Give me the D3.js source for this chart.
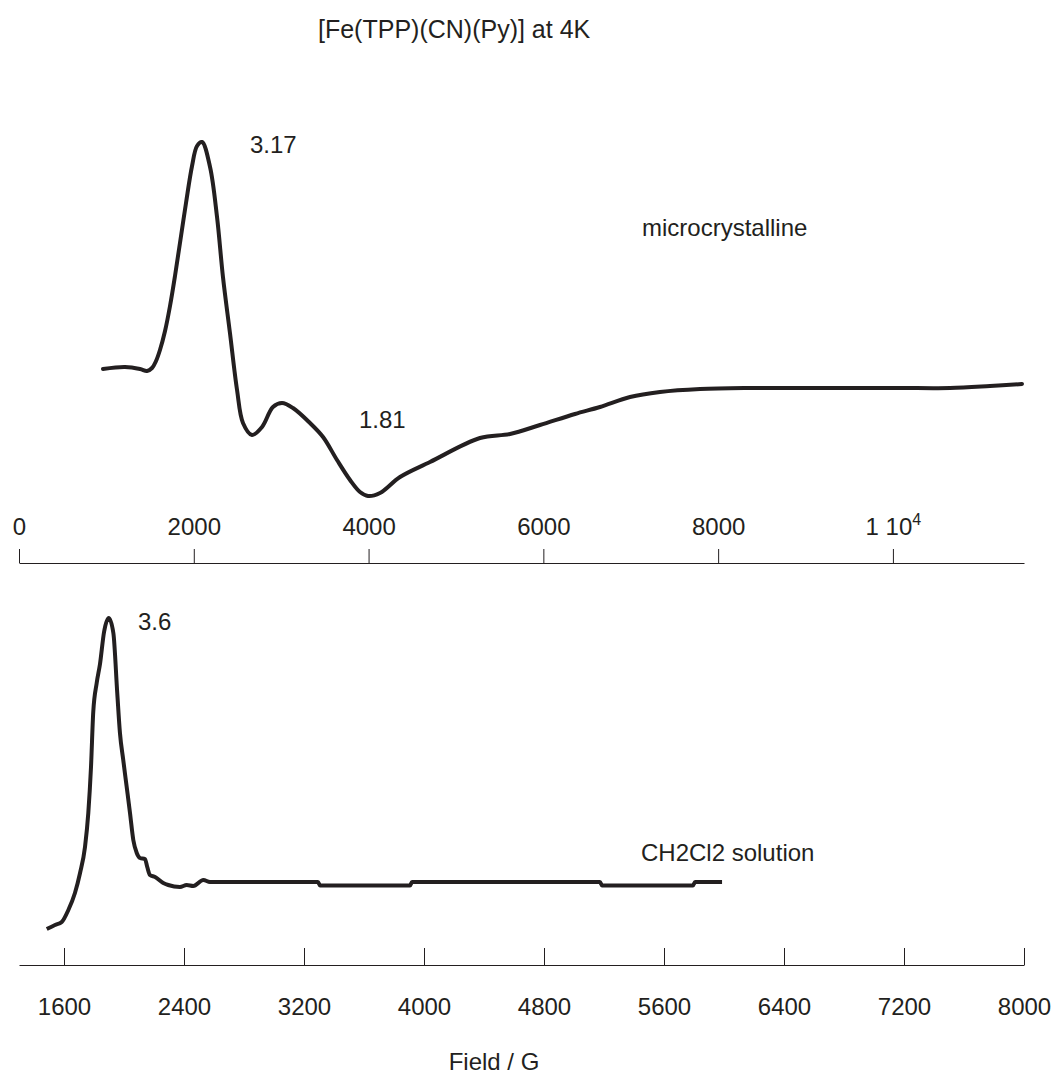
<!DOCTYPE html>
<html>
<head>
<meta charset="utf-8">
<script src="https://cdn.jsdelivr.net/npm/d3@7"></script>
<style>
  body { margin: 0; background: #fff; }
  text { font-family: "Liberation Sans", Arial, sans-serif; fill: #231f20; }
</style>
</head>
<body>
<svg width="1055" height="1078"></svg>
<script>
// microcrystalline spectrum (field in G, signal in arbitrary units)
var topField = [961, 1213, 1385, 1465, 1522, 1568, 1613, 1671, 1728, 1785, 1842, 1911, 1980, 2037, 2094, 2186, 2266, 2334, 2414, 2495, 2563, 2666, 2781, 2906, 3010, 3135, 3330, 3479, 3639, 3788, 3902, 3994, 4131, 4360, 4703, 5275, 5619, 5962, 6362, 6648, 6992, 7335, 7793, 8365, 8937, 9509, 10081, 10653, 11111, 11477];
var topSignal = [19, 21, 19, 17, 20, 27, 38, 57, 82, 112, 145, 185, 222, 242, 246, 221, 171, 111, 55, -2, -35, -47, -39, -19, -15, -20, -35, -49, -72, -92, -104, -108, -105, -89, -74, -50, -46, -37, -26, -19, -9, -4, -1, 0, 0, 0, 0, 0, 2, 4];

// CH2Cl2 solution spectrum
var botField = [1485, 1540, 1585, 1629, 1673, 1707, 1740, 1762, 1780, 1795, 1818, 1840, 1867, 1898, 1929, 1955, 1973, 1995, 2018, 2040, 2062, 2085, 2107, 2140, 2155, 2173, 2207, 2262, 2295, 2373, 2418, 2462, 2529, 2573, 3293, 3307, 3907, 3920, 5173, 5187, 5793, 5807, 5987];
var botSignal = [-47, -43, -40, -28, -11, 9, 35, 69, 115, 170, 199, 218, 250, 264, 249, 189, 149, 122, 95, 69, 42, 29, 24, 23, 15, 7, 5, -1, -3, -5, -3, -4, 2, 0, 0, -3.5, -3.5, 0, 0, -3.5, -3.5, 0, 0];

var topTicks = [0, 2000, 4000, 6000, 8000, 10000];
var botTicks = [1600, 2400, 3200, 4000, 4800, 5600, 6400, 7200, 8000];

var title = "[Fe(TPP)(CN)(Py)] at 4K";
var xLabel = "Field / G";

var svg = d3.select("svg");
var ink = "#231f20";

var xTop = d3.scaleLinear().domain([0, 11500]).range([19, 1024]);
var yTop = d3.scaleLinear().domain([-120, 260]).range([508, 128]);
var xBot = d3.scaleLinear().domain([1300, 8000]).range([19, 1024]);
var yBot = d3.scaleLinear().domain([-60, 270]).range([942, 612]);

var topData = topField.map(function(f, i) { return [f, topSignal[i]]; });
var botData = botField.map(function(f, i) { return [f, botSignal[i]]; });

svg.append("path")
  .datum(topData)
  .attr("fill", "none")
  .attr("stroke", ink)
  .attr("stroke-width", 4)
  .attr("stroke-linejoin", "round")
  .attr("stroke-linecap", "round")
  .attr("d", d3.line()
    .x(function(d) { return xTop(d[0]); })
    .y(function(d) { return yTop(d[1]); })
    .curve(d3.curveCatmullRom.alpha(0.5)));

svg.append("path")
  .datum(botData)
  .attr("fill", "none")
  .attr("stroke", ink)
  .attr("stroke-width", 4)
  .attr("stroke-linejoin", "round")
  .attr("d", d3.line()
    .x(function(d) { return xBot(d[0]); })
    .y(function(d) { return yBot(d[1]); })
    .curve(d3.curveMonotoneX));

// top axis: ticks up, labels above
var gTop = svg.append("g")
  .attr("transform", "translate(0,563)")
  .style("color", ink)
  .call(d3.axisTop(xTop)
    .tickValues(topTicks)
    .tickSize(14)
    .tickSizeOuter(0)
    .tickPadding(14)
    .tickFormat(function(d) { return d === 10000 ? "1 10" : d; }));
gTop.selectAll("text").attr("font-size", 24).attr("font-family", null);
gTop.selectAll(".tick text").filter(function(d) { return d === 10000; })
  .append("tspan").attr("dy", "-0.6em").attr("font-size", 16).text("4");

// bottom axis: ticks up, labels below
var gBot = svg.append("g")
  .attr("transform", "translate(0,965)")
  .style("color", ink)
  .call(d3.axisBottom(xBot)
    .tickValues(botTicks)
    .tickSize(-17)
    .tickSizeOuter(0)
    .tickPadding(33)
    .tickFormat(d3.format("d")));
gBot.selectAll("text").attr("font-size", 24).attr("font-family", null);

svg.selectAll(".domain, .tick line").attr("stroke-width", 1);

// texts
svg.append("text").attr("x", 318).attr("y", 38).attr("font-size", 25).text(title);
svg.append("text").attr("x", 250).attr("y", 153).attr("font-size", 24).text("3.17");
svg.append("text").attr("x", 642).attr("y", 236).attr("font-size", 24).text("microcrystalline");
svg.append("text").attr("x", 359).attr("y", 428).attr("font-size", 24).text("1.81");
svg.append("text").attr("x", 138).attr("y", 630).attr("font-size", 24).text("3.6");
svg.append("text").attr("x", 641).attr("y", 861).attr("font-size", 24).text("CH2Cl2 solution");
svg.append("text").attr("x", 494).attr("y", 1070).attr("text-anchor", "middle").attr("font-size", 24).text(xLabel);
</script>
</body>
</html>
